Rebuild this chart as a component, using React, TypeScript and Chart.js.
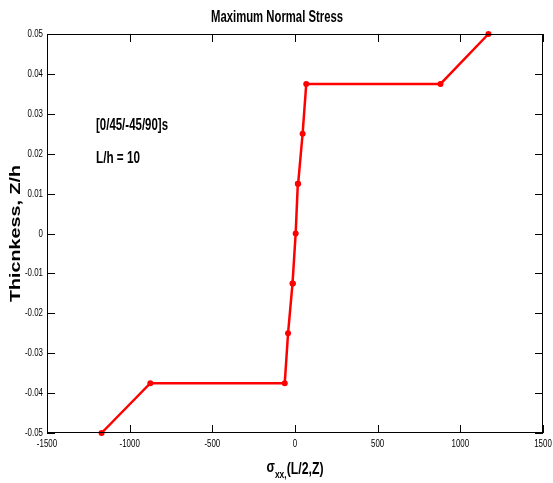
import React, { useEffect, useRef } from "react";
import { Chart, registerables } from "chart.js";

Chart.register(...registerables);

const stressX: number[] = [-1170, -875, -62, -42, -15, -13, 4, 17, 19, 46, 68, 880, 1170];
const thicknessZ: number[] = [-0.05, -0.0375, -0.0375, -0.025, -0.0125, -0.0125, 0, 0.0125, 0.0125, 0.025, 0.0375, 0.0375, 0.05];

const xTickMin = -1500;
const xTickMax = 1500;
const xTickStep = 500;
const yTickMin = -0.05;
const yTickMax = 0.05;
const yTickStep = 0.01;

const titleText = "Maximum Normal Stress";
const yTitleText = "Thicnkess, Z/h";
const xTitleMain = "σ";
const xTitleSub = "xx,";
const xTitleRest = "(L/2,Z)";
const noteLines: string[] = ["[0/45/-45/90]s", "L/h = 10"];

const SANS = '"Liberation Sans", Arial, sans-serif';
const SQUEEZE = 0.72;

function drawText(
  ctx: CanvasRenderingContext2D,
  text: string,
  x: number,
  y: number,
  font: string,
  sx: number,
  sy: number,
  align: CanvasTextAlign,
  baseline: CanvasTextBaseline
) {
  ctx.save();
  ctx.font = font;
  ctx.translate(x, y);
  ctx.scale(sx, sy);
  ctx.textAlign = align;
  ctx.textBaseline = baseline;
  ctx.fillText(text, 0, 0);
  ctx.restore();
}

function widthScale(ctx: CanvasRenderingContext2D, text: string, font: string, target: number) {
  ctx.save();
  ctx.font = font;
  const w = ctx.measureText(text).width;
  ctx.restore();
  return target / w;
}

const fmtY = (v: number) => {
  const r = Number(v.toFixed(2));
  return r === 0 ? "0" : String(r);
};

const decorPlugin = {
  id: "decor",
  afterDraw(chart: any) {
    const ctx: CanvasRenderingContext2D = chart.ctx;
    const { left, right, top, bottom } = chart.chartArea;
    const xs = chart.scales.x;
    const ys = chart.scales.y;
    ctx.save();
    ctx.strokeStyle = "#000";
    ctx.lineWidth = 1;
    ctx.strokeRect(left + 0.5, top + 0.5, right - left - 1, bottom - top - 1);
    const tl = 8;
    ctx.beginPath();
    xs.ticks.forEach((t: any) => {
      const px = Math.round(xs.getPixelForValue(t.value)) + 0.5;
      ctx.moveTo(px, bottom);
      ctx.lineTo(px, bottom - tl);
      ctx.moveTo(px, top);
      ctx.lineTo(px, top + tl);
    });
    ys.ticks.forEach((t: any) => {
      const py = Math.round(ys.getPixelForValue(t.value)) + 0.5;
      ctx.moveTo(left, py);
      ctx.lineTo(left + tl, py);
      ctx.moveTo(right, py);
      ctx.lineTo(right - tl, py);
    });
    ctx.stroke();

    ctx.fillStyle = "#000";
    const tickFont = `11px ${SANS}`;
    xs.ticks.forEach((t: any) => {
      const px = xs.getPixelForValue(t.value);
      drawText(ctx, String(t.value), px, bottom + 11, tickFont, SQUEEZE, 1, "center", "middle");
    });
    ys.ticks.forEach((t: any) => {
      const py = ys.getPixelForValue(t.value);
      drawText(ctx, fmtY(t.value), left - 4, py, tickFont, SQUEEZE, 1, "right", "middle");
    });

    // main title
    const tf = `bold 17px ${SANS}`;
    drawText(ctx, titleText, 277, 17, tf, widthScale(ctx, titleText, tf, 132), 1, "center", "middle");
    // notes
    const nf = `bold 17px ${SANS}`;
    drawText(ctx, noteLines[0], 96, 125, nf, widthScale(ctx, noteLines[0], nf, 72), 1, "left", "middle");
    drawText(ctx, noteLines[1], 96, 158, nf, widthScale(ctx, noteLines[1], nf, 44), 1, "left", "middle");
    // y title (rotated; glyph height squeezed horizontally on page)
    const yf = `bold 20px ${SANS}`;
    ctx.save();
    ctx.translate(16, (top + bottom) / 2);
    ctx.rotate(-Math.PI / 2);
    drawText(ctx, yTitleText, 0, 0, yf, widthScale(ctx, yTitleText, yf, 137), SQUEEZE, "center", "middle");
    ctx.restore();
    // x title with subscript
    const fMain = `bold 16px ${SANS}`;
    const fSub = `bold 11px ${SANS}`;
    ctx.font = fMain;
    const w1 = ctx.measureText(xTitleMain).width;
    const w3 = ctx.measureText(xTitleRest).width;
    ctx.font = fSub;
    const w2 = ctx.measureText(xTitleSub).width;
    const total = w1 + w2 + w3;
    const s = 57 / total;
    let cx = (left + right) / 2 - (total * s) / 2;
    const base = 474;
    drawText(ctx, xTitleMain, cx, base - 2, fMain, s, 1, "left", "alphabetic");
    cx += w1 * s;
    drawText(ctx, xTitleSub, cx, base + 4, fSub, s, 1, "left", "alphabetic");
    cx += w2 * s;
    drawText(ctx, xTitleRest, cx, base, fMain, s, 1, "left", "alphabetic");
    ctx.restore();
  },
};

export default function App() {
  const ref = useRef<HTMLCanvasElement | null>(null);
  useEffect(() => {
    if (!ref.current) return;
    const points = stressX.map((x, i) => ({ x, y: thicknessZ[i] }));
    const chart = new Chart(ref.current, {
      type: "scatter",
      data: {
        datasets: [
          {
            data: points,
            showLine: true,
            borderColor: "#ff0000",
            backgroundColor: "#ff0000",
            borderWidth: 2.5,
            pointRadius: 3,
            pointBorderWidth: 0,
            clip: false as any,
          },
        ],
      },
      options: {
        animation: false,
        responsive: false,
        devicePixelRatio: 1,
        layout: { padding: { top: 34, right: 10, left: 0, bottom: 0 } },
        plugins: { legend: { display: false }, tooltip: { enabled: false }, title: { display: false } },
        scales: {
          x: {
            type: "linear",
            min: xTickMin,
            max: xTickMax,
            grid: { display: false },
            border: { display: false },
            ticks: { stepSize: xTickStep, display: false },
            afterFit: (sc: any) => {
              sc.height = 50;
              sc.paddingLeft = 0;
              sc.paddingRight = 0;
            },
          },
          y: {
            type: "linear",
            min: yTickMin,
            max: yTickMax,
            grid: { display: false },
            border: { display: false },
            ticks: { stepSize: yTickStep, display: false },
            afterFit: (sc: any) => {
              sc.width = 47;
              sc.paddingTop = 0;
              sc.paddingBottom = 0;
            },
          },
        },
      },
      plugins: [decorPlugin],
    });
    return () => chart.destroy();
  }, []);
  return (
    <div style={{ position: "absolute", left: 0, top: 0, width: 553, height: 483, background: "#fff" }}>
      <canvas ref={ref} width={553} height={483} style={{ display: "block" }} />
    </div>
  );
}
